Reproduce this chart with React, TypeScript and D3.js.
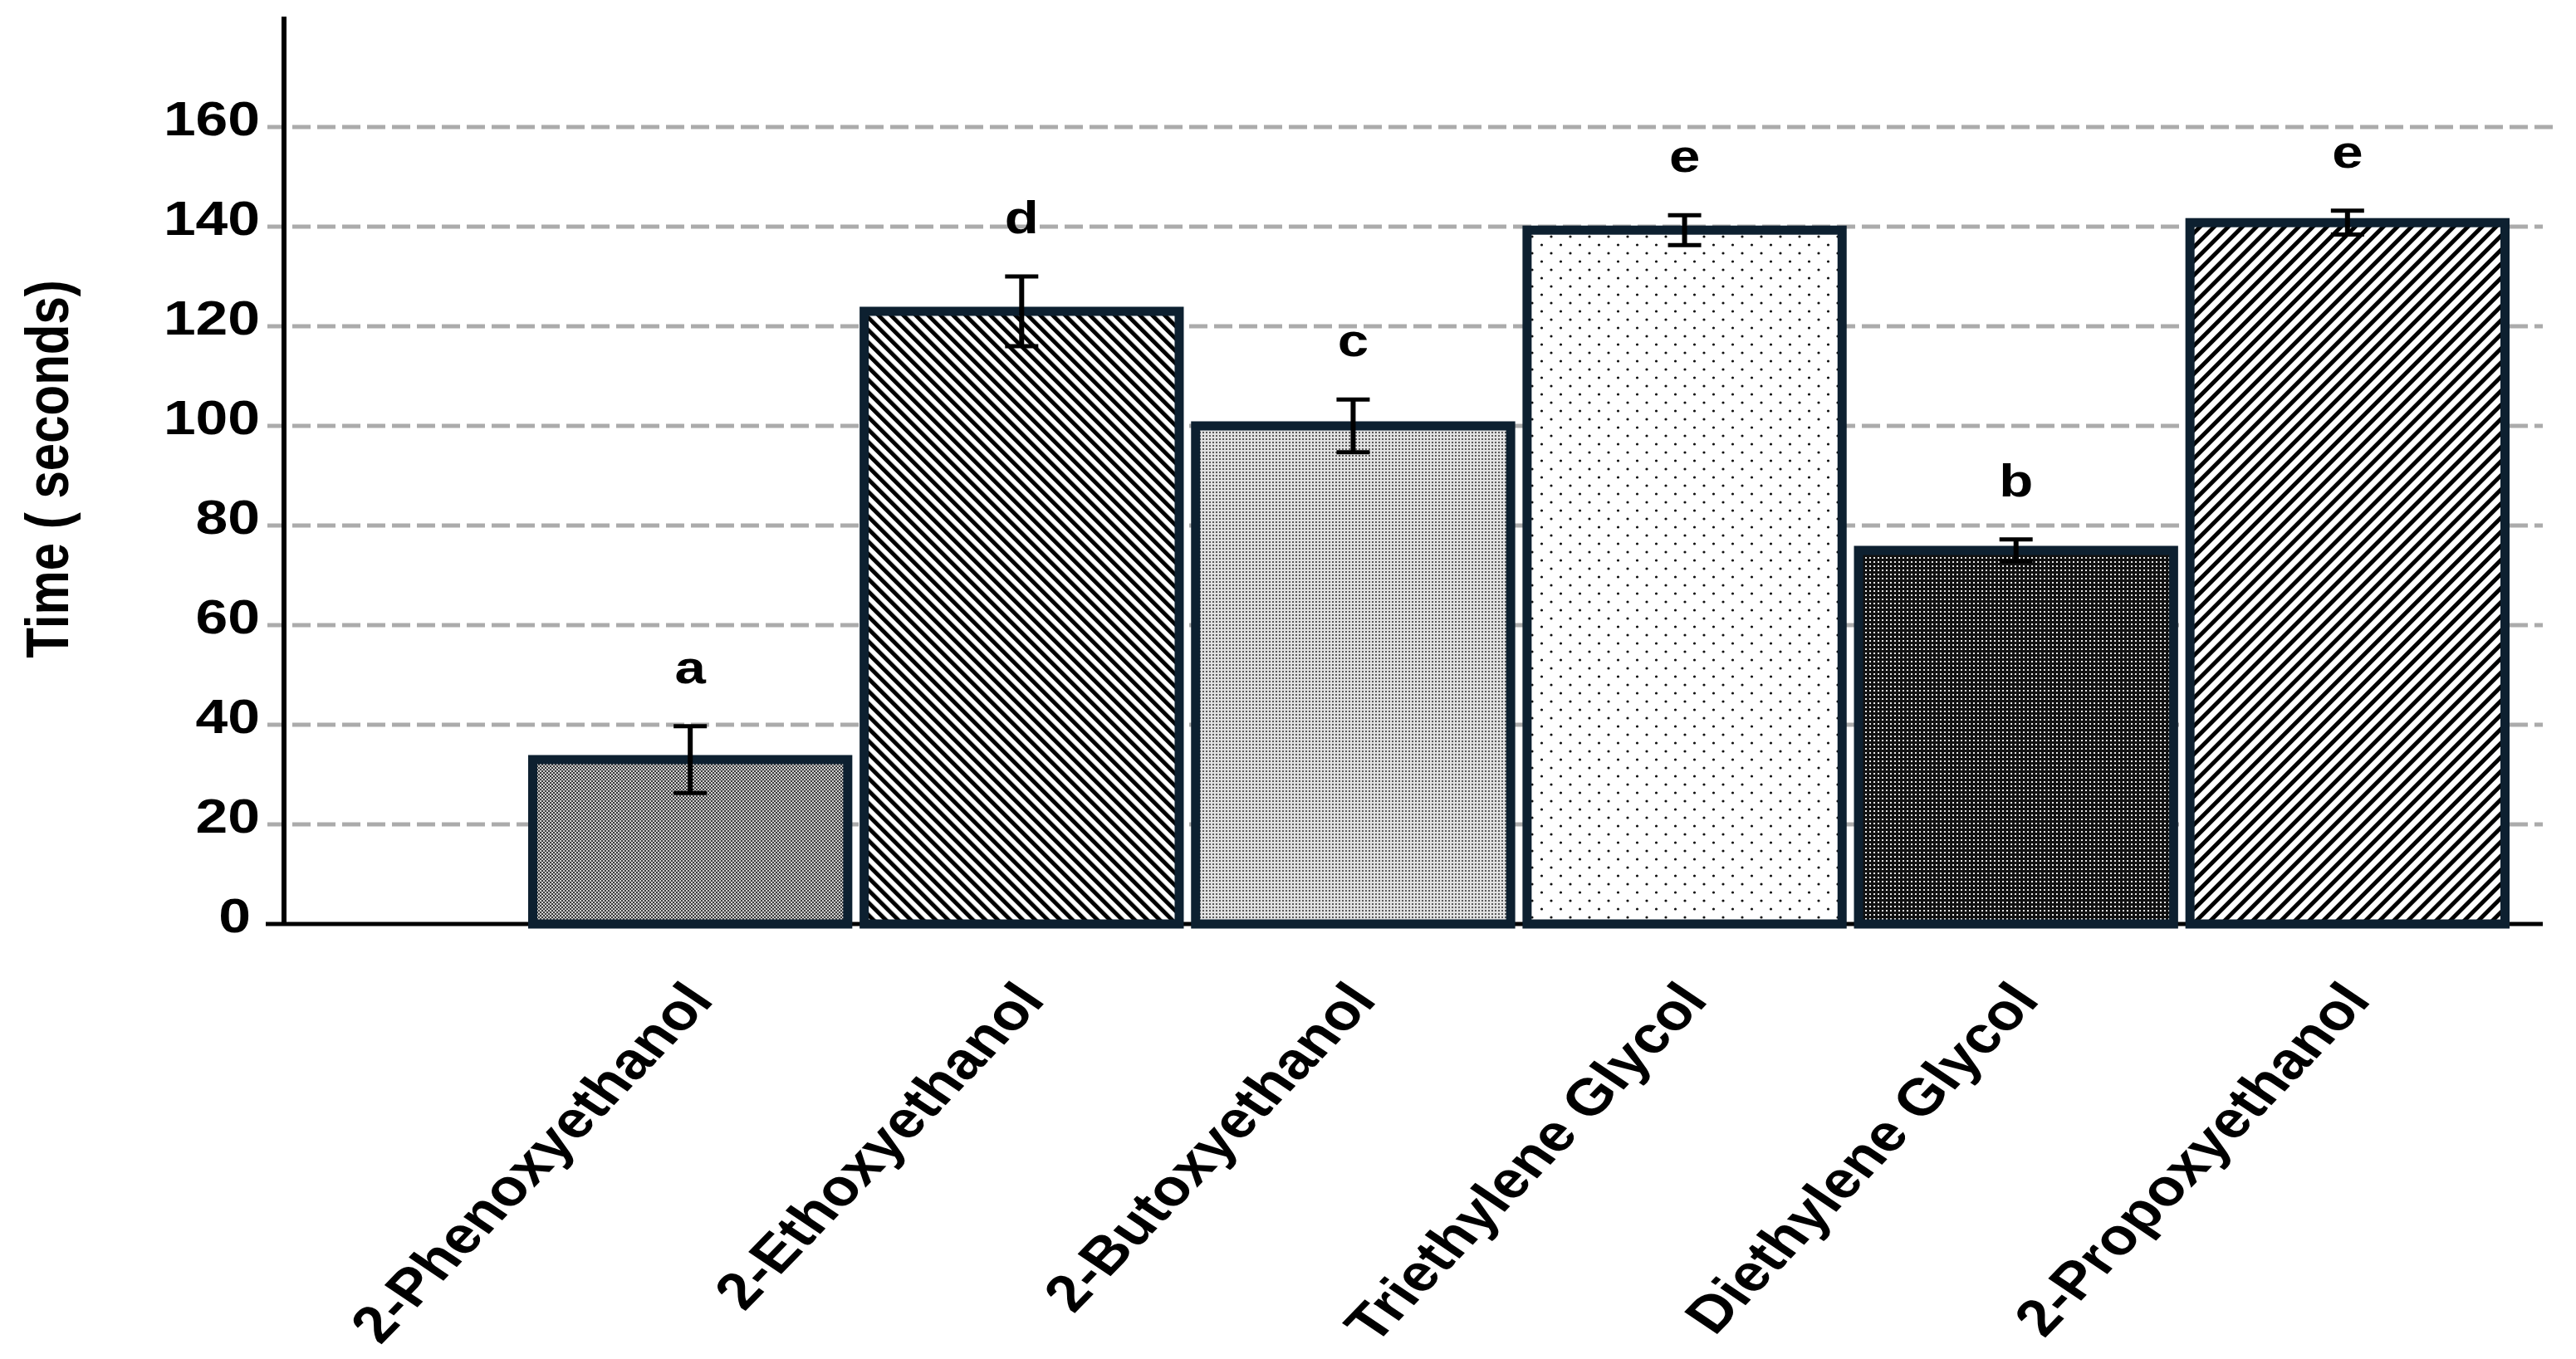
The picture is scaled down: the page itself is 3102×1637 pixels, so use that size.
import React, { useEffect, useRef } from 'react';
import * as d3 from 'd3';

// Solvents on the x axis, in drawing order
const solvents = [
  '2-Phenoxyethanol',
  '2-Ethoxyethanol',
  '2-Butoxyethanol',
  'Triethylene Glycol',
  'Diethylene Glycol',
  '2-Propoxyethanol',
];

// Mean time (seconds) and error
const meanTime = [33, 123, 100, 139.3, 75, 140.8];
const errTime = [6.7, 7, 5.3, 3, 2.2, 2.4];

// Significance letters above the bars
const groupLetters = ['a', 'd', 'c', 'e', 'b', 'e'];

// Fill pattern per bar
const barPatterns = ['pat-phen', 'pat-ethox', 'pat-butox', 'pat-trieth', 'pat-dieth', 'pat-propox'];

const yTicks = [0, 20, 40, 60, 80, 100, 120, 140, 160];

const WIDTH = 3102;
const HEIGHT = 1637;
const FONT = '"Liberation Sans", Arial, Helvetica, sans-serif';
const STRETCH = 1.2; // the figure text is stretched horizontally

const App: React.FC = () => {
  const svgRef = useRef<SVGSVGElement>(null);

  useEffect(() => {
    document.body.style.margin = '0';
    if (!svgRef.current) return;

    const svg = d3.select(svgRef.current);
    svg.selectAll('*').remove();
    svg.attr('width', WIDTH).attr('height', HEIGHT);

    svg.append('rect').attr('width', WIDTH).attr('height', HEIGHT).attr('fill', '#fff');

    const axisX = 342;
    const baseY = 1113;

    const xScale = d3.scaleBand<string>()
      .domain(solvents)
      .range([636, 3022])
      .paddingInner(0.022)
      .paddingOuter(0);

    const yScale = d3.scaleLinear().domain([0, 160]).range([baseY, 153]);

    // Patterns
    const defs = svg.append('defs');

    const phen = defs.append('pattern').attr('id', 'pat-phen')
      .attr('patternUnits', 'userSpaceOnUse').attr('width', 4).attr('height', 4);
    phen.append('rect').attr('width', 4).attr('height', 4).attr('fill', '#cfcfcf');
    phen.append('rect').attr('width', 2).attr('height', 2).attr('fill', '#3c3c3c');
    phen.append('rect').attr('x', 2).attr('y', 2).attr('width', 2).attr('height', 2).attr('fill', '#3c3c3c');

    const butox = defs.append('pattern').attr('id', 'pat-butox')
      .attr('patternUnits', 'userSpaceOnUse').attr('width', 4).attr('height', 4);
    butox.append('rect').attr('width', 4).attr('height', 4).attr('fill', '#e2e2e2');
    butox.append('rect').attr('width', 2).attr('height', 2).attr('fill', '#5a5a5a');

    const trieth = defs.append('pattern').attr('id', 'pat-trieth')
      .attr('patternUnits', 'userSpaceOnUse').attr('width', 23).attr('height', 20);
    trieth.append('rect').attr('width', 23).attr('height', 20).attr('fill', '#fff');
    trieth.append('circle').attr('cx', 5).attr('cy', 5).attr('r', 1.6).attr('fill', '#111');
    trieth.append('circle').attr('cx', 16.5).attr('cy', 15).attr('r', 1.6).attr('fill', '#111');

    const dieth = defs.append('pattern').attr('id', 'pat-dieth')
      .attr('patternUnits', 'userSpaceOnUse').attr('width', 5).attr('height', 5);
    dieth.append('rect').attr('width', 5).attr('height', 5).attr('fill', '#111');
    dieth.append('rect').attr('x', 1).attr('y', 1).attr('width', 2).attr('height', 2).attr('fill', '#e8e8e8');

    const hatch = (id: string, period: number, thick: number, angle: number) => {
      const p = defs.append('pattern').attr('id', id)
        .attr('patternUnits', 'userSpaceOnUse')
        .attr('width', period).attr('height', period)
        .attr('patternTransform', `rotate(${angle})`);
      p.append('rect').attr('width', period).attr('height', period).attr('fill', '#fff');
      p.append('rect').attr('width', thick).attr('height', period).attr('fill', '#000');
    };
    hatch('pat-ethox', 10.6, 5, -45);
    hatch('pat-propox', 12, 5, 45);

    // Dashed gridlines (the top one runs a little further right)
    svg.append('g')
      .selectAll('line')
      .data(yTicks.filter(t => t > 0))
      .enter()
      .append('line')
      .attr('x1', 322)
      .attr('x2', d => (d === 160 ? 3078 : 3062))
      .attr('y1', d => yScale(d))
      .attr('y2', d => yScale(d))
      .attr('stroke', '#ababab')
      .attr('stroke-width', 5)
      .attr('stroke-dasharray', '22 8');

    // Axes
    svg.append('line')
      .attr('x1', axisX).attr('x2', axisX)
      .attr('y1', 20).attr('y2', baseY)
      .attr('stroke', '#000').attr('stroke-width', 6);

    svg.append('line')
      .attr('x1', 320).attr('x2', 3062)
      .attr('y1', baseY).attr('y2', baseY)
      .attr('stroke', '#000').attr('stroke-width', 5);

    // Y tick labels
    svg.append('g')
      .selectAll('text')
      .data(yTicks)
      .enter()
      .append('text')
      .attr('transform', d => `translate(${d === 0 ? 302 : 313},${yScale(d) + 10}) scale(${STRETCH},1)`)
      .attr('text-anchor', 'end')
      .style('font-family', FONT)
      .style('font-weight', 'bold')
      .style('font-size', '58px')
      .style('fill', '#000')
      .text(d => d);

    // Y axis title
    svg.append('text')
      .attr('transform', `translate(82,565) scale(${STRETCH},1) rotate(-90)`)
      .attr('text-anchor', 'middle')
      .style('font-family', FONT)
      .style('font-weight', 'bold')
      .style('font-size', '60px')
      .style('fill', '#000')
      .text('Time ( seconds)');

    const rows = solvents.map((name, i) => ({
      name,
      mean: meanTime[i],
      err: errTime[i],
      letter: groupLetters[i],
      pattern: barPatterns[i],
    }));

    // Bars
    const stroke = 11;
    svg.append('g')
      .selectAll('rect')
      .data(rows)
      .enter()
      .append('rect')
      .attr('x', d => (xScale(d.name) || 0) + stroke / 2)
      .attr('y', d => yScale(d.mean))
      .attr('width', xScale.bandwidth() - stroke)
      .attr('height', d => baseY - yScale(d.mean))
      .attr('fill', d => `url(#${d.pattern})`)
      .attr('stroke', '#0d2030')
      .attr('stroke-width', stroke);

    // Error bars
    const cx = (name: string) => (xScale(name) || 0) + xScale.bandwidth() / 2;
    const errG = svg.append('g').attr('stroke', '#000');
    rows.forEach(d => {
      const x = cx(d.name);
      const top = yScale(d.mean + d.err);
      const bot = yScale(d.mean - d.err);
      errG.append('line').attr('x1', x).attr('x2', x).attr('y1', top).attr('y2', bot).attr('stroke-width', 6);
      errG.append('line').attr('x1', x - 20).attr('x2', x + 20).attr('y1', top).attr('y2', top).attr('stroke-width', 5);
      errG.append('line').attr('x1', x - 20).attr('x2', x + 20).attr('y1', bot).attr('y2', bot).attr('stroke-width', 5);
    });

    // Significance letters
    svg.append('g')
      .selectAll('text')
      .data(rows)
      .enter()
      .append('text')
      .attr('transform', d => `translate(${cx(d.name)},${yScale(d.mean + d.err) - 52}) scale(${STRETCH},1)`)
      .attr('text-anchor', 'middle')
      .style('font-family', FONT)
      .style('font-weight', 'bold')
      .style('font-size', '56px')
      .style('fill', '#000')
      .text(d => d.letter);

    // X category labels (rotated)
    svg.append('g')
      .selectAll('text')
      .data(solvents)
      .enter()
      .append('text')
      .attr('transform', d => `translate(${cx(d) + 30},1206) scale(${STRETCH},1) rotate(-51)`)
      .attr('text-anchor', 'end')
      .style('font-family', FONT)
      .style('font-weight', 'bold')
      .style('font-size', '62px')
      .style('fill', '#000')
      .text(d => d);
  }, []);

  return <svg ref={svgRef} style={{ display: 'block' }}></svg>;
};

export default App;
